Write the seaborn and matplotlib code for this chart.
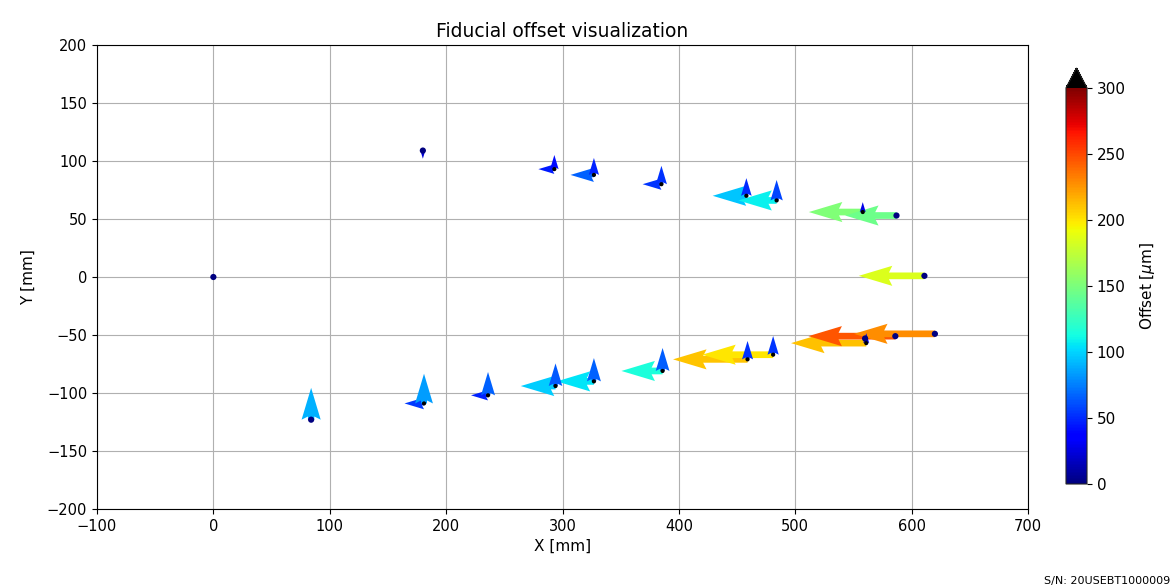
import numpy as np
import pandas as pd
import matplotlib
matplotlib.use("Agg")
import matplotlib.pyplot as plt
import seaborn as sns
from matplotlib.colors import Normalize
from matplotlib.cm import ScalarMappable

# Fiducials measured with separate X / Y offsets (black markers)
fid_x = [293, 327, 385, 458, 484, 558, 181, 236, 294, 327, 386, 459, 481, 561]
fid_y = [93, 88, 80, 70, 66, 56, -109, -102, -94, -90, -81, -71, -67, -57]
off_dx = [-45, -66, -53, -95, -108, -152, -55, -48, -98, -105, -116, -210, -200, -212]
off_dy = [40, 48, 52, 50, 58, 28, 84, 66, 64, 66, 65, 52, 53, 28]

# Reference fiducials (navy markers), single offset vector
ref_x = [0, 180, 84, 587, 611, 560, 586, 620]
ref_y = [0, 109, -123, 53, 1, -53, -51, -49]
ref_dx = [0, 0, 0, -145, -185, 0, -245, -228]
ref_dy = [0, -23, 90, 0, 0, 0, 0, 0]

xticks = [-100, 0, 100, 200, 300, 400, 500, 600, 700]
yticks = [-200, -150, -100, -50, 0, 50, 100, 150, 200]
cbar_ticks = [0, 50, 100, 150, 200, 250, 300]

title = "Fiducial offset visualization"
serial = "S/N: 20USEBT1000009"

sns.set_style("white")
plt.rcParams["font.family"] = ["DejaVu Sans"]
plt.rcParams["text.color"] = "black"
plt.rcParams["axes.labelcolor"] = "black"

fig = plt.figure(figsize=(11.73, 5.88), dpi=100)
ax = fig.add_axes([97 / 1173, (588 - 509) / 588, 931 / 1173, 464 / 588])
cax = fig.add_axes([1066 / 1173, (588 - 484) / 588, 21 / 1173, (484 - 68) / 588])

norm = Normalize(vmin=0, vmax=300)
cmap = plt.get_cmap("jet").with_extremes(over="black")
scale = 3.28
qkw = dict(angles="xy", scale_units="xy", scale=scale, cmap=cmap, norm=norm,
           width=0.0072, zorder=3)

# horizontal offsets (X component) of fiducials
fx = np.array(fid_x, float); fy = np.array(fid_y, float)
u = np.array(off_dx, float); v = np.array(off_dy, float)
ax.quiver(fx, fy, u, np.zeros_like(u), np.abs(u), **qkw)

# reference fiducial offsets
rx = np.array(ref_x, float); ry = np.array(ref_y, float)
ru = np.array(ref_dx, float); rv = np.array(ref_dy, float)
rm = np.hypot(ru, rv)
m = rm > 0
ax.quiver(rx[m], ry[m], ru[m], rv[m], rm[m], **qkw)

# vertical offsets (Y component) of fiducials
ax.quiver(fx, fy, np.zeros_like(v), v, np.abs(v), **qkw)

# markers
df_b = pd.DataFrame({"x": fid_x, "y": fid_y})
df_r = pd.DataFrame({"x": ref_x, "y": ref_y})
sns.scatterplot(data=df_r, x="x", y="y", ax=ax, color="#000080", s=20,
                edgecolor="none", zorder=4, legend=False)
sns.scatterplot(data=df_b, x="x", y="y", ax=ax, color="black", s=9,
                edgecolor="none", zorder=5, legend=False)

ax.set_xlim(-100, 700)
ax.set_ylim(-200, 200)
ax.set_xticks(xticks)
ax.set_yticks(yticks)
ax.grid(True, color="#b0b0b0", linewidth=0.8)
ax.set_axisbelow(True)
for s in ax.spines.values():
    s.set_color("black")
    s.set_linewidth(0.8)
ax.tick_params(direction="out", length=3.5, width=0.8, labelsize=10.5,
               colors="black", bottom=True, left=True)
ax.set_xlabel("X [mm]", fontsize=11)
ax.set_ylabel("Y [mm]", fontsize=11, labelpad=8)
ax.set_title(title, fontsize=13.5, pad=6)

sm = ScalarMappable(norm=norm, cmap=cmap)
cb = fig.colorbar(sm, cax=cax, extend="max", ticks=cbar_ticks)
cb.set_label("Offset [$\\mu$m]", fontsize=11, labelpad=9)
cb.outline.set_linewidth(0.8)
cax.tick_params(labelsize=11, length=3.5, width=0.8, right=True, colors="black")

fig.text(1170 / 1173, 2 / 588, serial, fontsize=8, ha="right", va="bottom")

fig.savefig("out.png", dpi=100)
